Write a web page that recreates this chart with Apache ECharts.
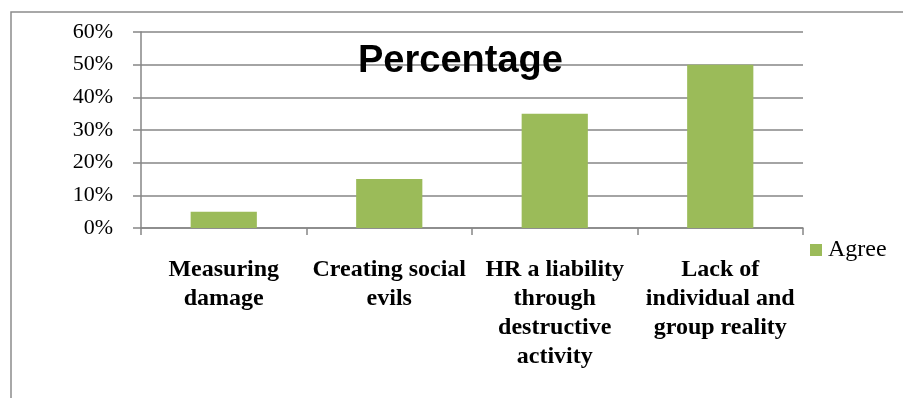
<!DOCTYPE html>
<html>
<head>
<meta charset="utf-8">
<script src="https://cdn.jsdelivr.net/npm/echarts@6/dist/echarts.min.js"></script>
<style>html,body{margin:0;padding:0;background:#fff;}#c{width:903px;height:398px;}</style>
</head>
<body>
<div id="c"></div>
<script>
var categories = ['Measuring\ndamage', 'Creating social\nevils', 'HR a liability\nthrough\ndestructive\nactivity', 'Lack of\nindividual and\ngroup reality'];
var agreeValues = [5, 15, 35, 50];
var seriesName = 'Agree';
var chartTitle = 'Percentage';

var chart = echarts.init(document.getElementById('c'), null, {renderer: 'canvas'});
chart.setOption({
  animation: false,
  backgroundColor: '#ffffff',
  title: {
    text: chartTitle,
    left: 358,
    top: 43,
    padding: 0,
    textStyle: {fontFamily: 'Liberation Sans', fontWeight: 'bold', fontSize: 38, color: '#000'}
  },
  legend: {
    data: [seriesName],
    left: 810,
    top: 238,
    padding: 0,
    itemWidth: 12,
    itemHeight: 12,
    itemGap: 0,
    icon: 'rect',
    textStyle: {fontFamily: 'Liberation Serif', fontSize: 24, color: '#000', padding: [0, 0, 0, 1]}
  },
  graphic: [{
    type: 'polyline',
    shape: {points: [[11, 398], [11, 12], [903, 12]]},
    style: {stroke: '#8c8c8c', lineWidth: 1.5, fill: null},
    silent: true
  }],
  grid: {left: 141, right: 100, top: 32, bottom: 170, containLabel: false},
  xAxis: {
    type: 'category',
    data: categories,
    axisLine: {lineStyle: {color: '#868686', width: 1.5}},
    axisTick: {show: true, length: 7, inside: false, alignWithLabel: false, lineStyle: {color: '#868686', width: 1.5}},
    axisLabel: {
      interval: 0,
      margin: 27,
      fontFamily: 'Liberation Serif',
      fontWeight: 'bold',
      fontSize: 24,
      lineHeight: 29,
      color: '#000'
    }
  },
  yAxis: {
    type: 'value',
    min: 0,
    max: 60,
    interval: 10,
    axisLine: {show: true, lineStyle: {color: '#868686', width: 1.5}},
    axisTick: {show: true, length: 8, lineStyle: {color: '#868686', width: 1.5}},
    splitLine: {show: true, lineStyle: {color: '#868686', width: 1.5}},
    axisLabel: {
      formatter: '{value}%',
      margin: 28,
      fontFamily: 'Liberation Serif',
      fontSize: 22,
      color: '#000'
    }
  },
  series: [{
    name: seriesName,
    type: 'bar',
    data: agreeValues,
    barCategoryGap: '60%',
    itemStyle: {color: '#9BBB59'}
  }]
});
</script>
</body>
</html>
